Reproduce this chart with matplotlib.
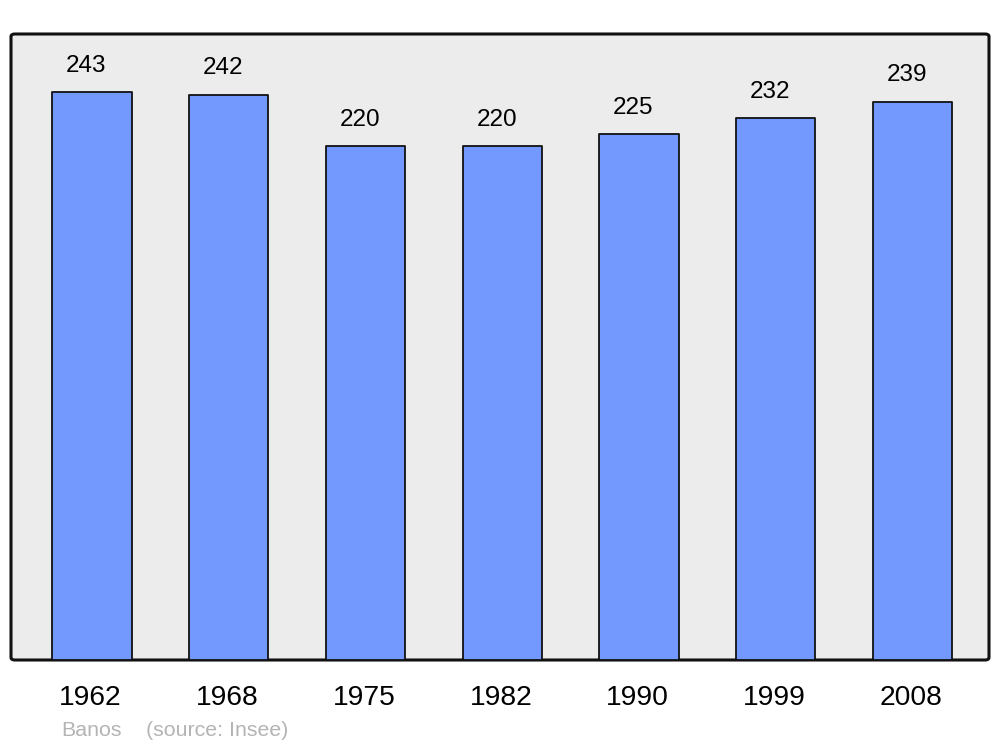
import matplotlib
matplotlib.use("Agg")
import matplotlib.pyplot as plt
from matplotlib.patches import FancyBboxPatch

years = ["1962", "1968", "1975", "1982", "1990", "1999", "2008"]
population = [243, 242, 220, 220, 225, 232, 239]
commune = "Banos"
source = "(source: Insee)"

plt.rcParams["font.family"] = ["Liberation Sans", "DejaVu Sans"]

fig = plt.figure(figsize=(10, 7.47), dpi=100)
# axes box in pixels: x 11..989, y 34..660 (from top)
ax = fig.add_axes([11 / 1000, 1 - 660 / 747, 978 / 1000, 626 / 747])
ax.set_facecolor("none")
ax.set_xlim(-0.592, 6.559)
ax.set_ylim(0, 267.9)
ax.axis("off")

# rounded background frame
frame = FancyBboxPatch((0, 0), 1, 1, boxstyle="round,pad=0,rounding_size=0.004",
                       transform=ax.transAxes, facecolor="#ececec",
                       edgecolor="#111111", linewidth=2.2, zorder=0, clip_on=False)
ax.add_patch(frame)

bars = ax.bar(range(len(years)), population, width=0.58, color="#7399ff",
              edgecolor="#111111", linewidth=1.3, zorder=2)
for b in bars:
    b.set_joinstyle("round")

for i, v in enumerate(population):
    ax.annotate(str(v), (i, v), xytext=(-4, 11), textcoords="offset points",
                ha="center", va="bottom", fontsize=17.5, color="#000000")

for i, y in enumerate(years):
    ax.annotate(y, (i, 0), xytext=(-1, -27.5), textcoords="offset points",
                ha="center", va="center", fontsize=20.3, color="#000000",
                annotation_clip=False)

fig.text(61 / 1000, 1 - 730 / 747, commune, ha="left", va="center",
         fontsize=15.4, color="#b4b4b4")
fig.text(146 / 1000, 1 - 730 / 747, source, ha="left", va="center",
         fontsize=15.4, color="#b4b4b4")

fig.savefig("out.png", dpi=100, facecolor="white")
